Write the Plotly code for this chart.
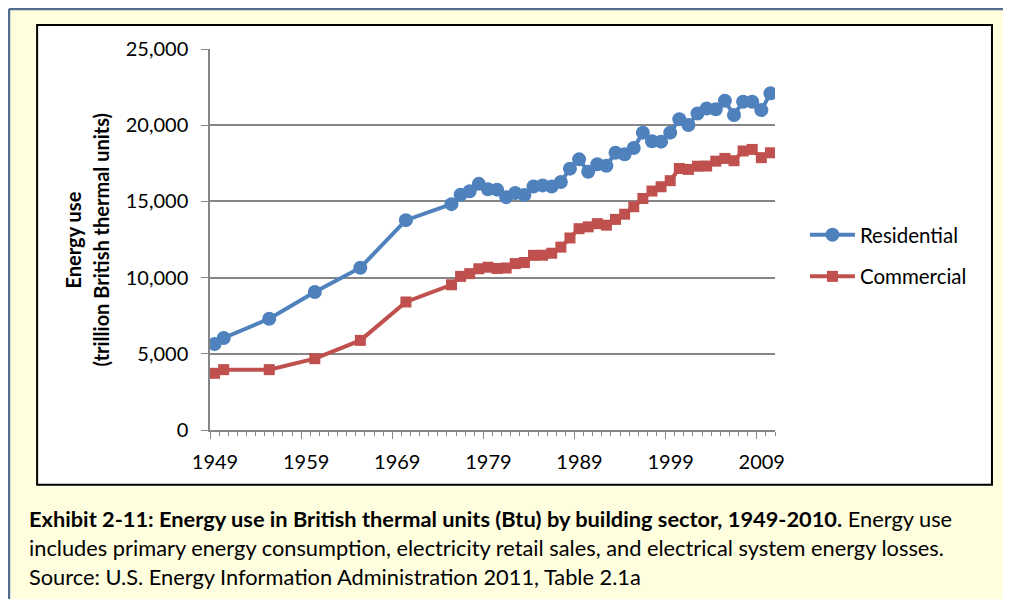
import plotly.graph_objects as go

years = [1949, 1950, 1955, 1960, 1965, 1970,
         1975, 1976, 1977, 1978, 1979, 1980, 1981, 1982, 1983, 1984,
         1985, 1986, 1987, 1988, 1989, 1990, 1991, 1992, 1993, 1994,
         1995, 1996, 1997, 1998, 1999, 2000, 2001, 2002, 2003, 2004,
         2005, 2006, 2007, 2008, 2009, 2010]

residential = [5640, 6040, 7300, 9060, 10650, 13770,
               14820, 15440, 15670, 16150, 15800, 15770, 15280, 15550, 15420, 15980,
               16050, 15970, 16270, 17150, 17760, 16950, 17440, 17340, 18190, 18090,
               18500, 19510, 18950, 18920, 19510, 20390, 20010, 20770, 21100, 21050,
               21600, 20670, 21540, 21540, 20990, 22090]

commercial = [3720, 3960, 3960, 4680, 5880, 8400,
              9530, 10080, 10260, 10580, 10680, 10600, 10630, 10920, 10990, 11460,
              11470, 11600, 12000, 12600, 13210, 13330, 13540, 13440, 13820, 14160,
              14650, 15190, 15680, 15960, 16360, 17160, 17100, 17310, 17320, 17640,
              17820, 17670, 18310, 18410, 17870, 18190]

x_tick_labels = ["1949", "1959", "1969", "1979", "1989", "1999", "2009"]
x_tick_positions = [1948.5, 1958.5, 1968.5, 1978.5, 1988.5, 1998.5, 2008.5]

caption_lines = [
    "<b>Exhibit 2-11: Energy use in British thermal units (Btu) by building sector, 1949-2010.</b> Energy use",
    "includes primary energy consumption, electricity retail sales, and electrical system energy losses.",
    "Source: U.S. Energy Information Administration 2011, Table 2.1a",
]

FONT = "Lato"
GRAY = "#868686"
BLUE = "#4F81BD"
RED = "#C0504D"

fig = go.Figure()

fig.add_trace(
    go.Scatter(
        x=years, y=residential, mode="lines+markers", name="Residential",
        line=dict(color=BLUE, width=4),
        marker=dict(symbol="circle", size=14, color=BLUE),
        legendgroup="res",
    )
)
fig.add_trace(
    go.Scatter(
        x=years, y=commercial, mode="lines+markers", name="Commercial",
        line=dict(color=RED, width=4),
        marker=dict(symbol="square", size=11, color=RED),
        legendgroup="com",
    )
)

# frame: light-yellow page, slate border, white chart box
fig.add_shape(type="rect", xref="paper", yref="paper",
              x0=-0.306, x1=1.384, y0=-0.144, y1=1.063,
              line=dict(color="black", width=2), fillcolor="white", layer="below")
fig.add_shape(type="line", xref="paper", yref="paper",
              x0=-0.3558, x1=1.42, y0=1.105, y1=1.105,
              line=dict(color="#536D8E", width=2.5))
fig.add_shape(type="line", xref="paper", yref="paper",
              x0=-0.3558, x1=-0.3558, y0=1.105, y1=-0.45,
              line=dict(color="#536D8E", width=2.5))

# y-axis title, two lines
fig.add_annotation(text="<b>Energy use</b>", xref="paper", yref="paper",
                   x=-0.2425, y=0.5, xanchor="center", yanchor="middle",
                   textangle=-90, showarrow=False,
                   font=dict(family=FONT, size=20, color="black"))
fig.add_annotation(text="<b>(trillion British thermal units)</b>", xref="paper", yref="paper",
                   x=-0.193, y=0.5, xanchor="center", yanchor="middle",
                   textangle=-90, showarrow=False,
                   font=dict(family=FONT, size=20, color="black"))

for i, line in enumerate(caption_lines):
    fig.add_annotation(text=line, xref="paper", yref="paper",
                       x=-0.324, y=-0.231 - i * 0.077, xanchor="left", yanchor="middle",
                       showarrow=False, align="left",
                       font=dict(family=FONT, size=21.8, color="black"))

fig.update_layout(
    width=1003, height=591,
    margin=dict(l=202, r=236, t=41, b=169),
    paper_bgcolor="#FFFEDF",
    plot_bgcolor="white",
    font=dict(family=FONT, size=20, color="black"),
    showlegend=True,
    legend=dict(x=1.053, y=0.457, xanchor="left", yanchor="middle",
                bgcolor="rgba(0,0,0,0)", tracegroupgap=12, itemwidth=45,
                font=dict(family=FONT, size=20.5)),
    xaxis=dict(
        range=[1948.5, 2010.5],
        tickmode="array", tickvals=x_tick_positions, ticktext=x_tick_labels,
        ticklabelshift=5, ticklabelstandoff=6,
        ticks="outside", ticklen=7, tickcolor=GRAY,
        minor=dict(tickmode="linear", tick0=1948.5, dtick=1, ticks="outside",
                   ticklen=4, tickcolor=GRAY, showgrid=False),
        showline=True, linecolor=GRAY, linewidth=1.5,
        showgrid=False, zeroline=False, automargin=False,
    ),
    yaxis=dict(
        range=[0, 25000], dtick=5000, tickformat=",",
        ticks="outside", ticklen=7, tickcolor=GRAY, ticklabelstandoff=9,
        showline=True, linecolor=GRAY, linewidth=1.5,
        showgrid=True, gridcolor=GRAY, gridwidth=1.5, zeroline=False, automargin=False,
    ),
)

fig.write_html("out.html")
